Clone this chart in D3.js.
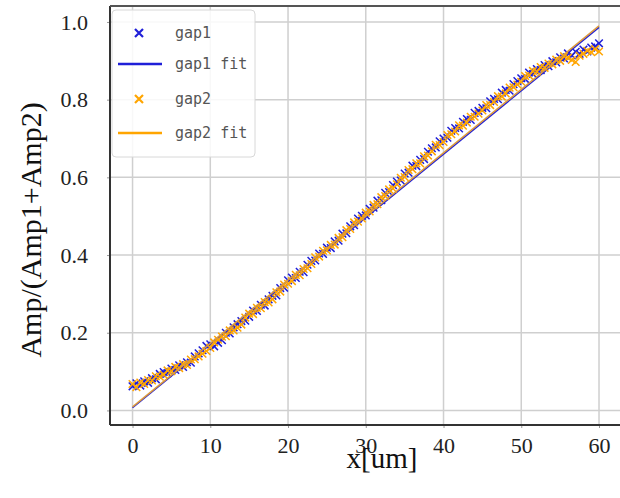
<!DOCTYPE html>
<html>
<head>
<meta charset="utf-8">
<script src="https://cdn.jsdelivr.net/npm/d3@7"></script>
<style>
  body { margin: 0; background: #fff; }
  svg { display: block; }
</style>
</head>
<body>
<div id="chart"></div>
<script>
// x positions of the measurements (um), step 0.5
const xValues = d3.range(0, 60.5, 0.5);

const gap1 = [
  0.062, 0.070, 0.064, 0.075, 0.071, 0.083, 0.080, 0.094, 0.099, 0.096,
  0.108, 0.104, 0.116, 0.112, 0.124, 0.123, 0.139, 0.147, 0.155, 0.166,
  0.170, 0.165, 0.174, 0.181, 0.200, 0.198, 0.214, 0.222, 0.230, 0.231,
  0.241, 0.257, 0.256, 0.272, 0.270, 0.286, 0.295, 0.296, 0.315, 0.316,
  0.335, 0.342, 0.341, 0.357, 0.356, 0.375, 0.385, 0.386, 0.404, 0.403,
  0.419, 0.418, 0.435, 0.437, 0.455, 0.456, 0.474, 0.477, 0.494, 0.501,
  0.502, 0.519, 0.522, 0.540, 0.541, 0.560, 0.562, 0.580, 0.589, 0.592,
  0.610, 0.612, 0.630, 0.629, 0.645, 0.647, 0.666, 0.675, 0.677, 0.693,
  0.700, 0.702, 0.720, 0.727, 0.726, 0.743, 0.750, 0.748, 0.766, 0.771,
  0.779, 0.778, 0.796, 0.802, 0.801, 0.818, 0.825, 0.823, 0.840, 0.848,
  0.855, 0.853, 0.870, 0.866, 0.879, 0.876, 0.889, 0.886, 0.899, 0.896,
  0.909, 0.906, 0.919, 0.914, 0.923, 0.918, 0.929, 0.924, 0.934, 0.937,
  0.945
];

const gap2 = [
  0.068, 0.060, 0.072, 0.068, 0.078, 0.077, 0.088, 0.087, 0.092, 0.103,
  0.101, 0.112, 0.109, 0.119, 0.117, 0.131, 0.132, 0.139, 0.146, 0.153,
  0.161, 0.175, 0.182, 0.190, 0.191, 0.206, 0.206, 0.213, 0.221, 0.239,
  0.249, 0.248, 0.264, 0.263, 0.279, 0.278, 0.286, 0.304, 0.306, 0.324,
  0.326, 0.333, 0.349, 0.348, 0.364, 0.366, 0.377, 0.394, 0.396, 0.411,
  0.412, 0.426, 0.427, 0.444, 0.446, 0.464, 0.467, 0.484, 0.486, 0.494,
  0.509, 0.512, 0.529, 0.531, 0.549, 0.552, 0.569, 0.571, 0.582, 0.599,
  0.601, 0.619, 0.621, 0.636, 0.636, 0.654, 0.656, 0.667, 0.684, 0.683,
  0.691, 0.709, 0.711, 0.718, 0.734, 0.733, 0.741, 0.756, 0.756, 0.764,
  0.772, 0.786, 0.786, 0.794, 0.809, 0.808, 0.816, 0.831, 0.832, 0.839,
  0.846, 0.861, 0.862, 0.874, 0.872, 0.884, 0.882, 0.893, 0.891, 0.903,
  0.900, 0.912, 0.908, 0.902, 0.897, 0.913, 0.918, 0.926, 0.922, 0.930,
  0.924
];

// linear fits, given by their end points
const fitX = [0, 60];
const gap1Fit = [0.007, 0.986];
const gap2Fit = [0.009, 0.990];

const xTicks = [0, 10, 20, 30, 40, 50, 60];
const yTicks = [0.0, 0.2, 0.4, 0.6, 0.8, 1.0];
const legendItems = ["gap1", "gap1 fit", "gap2", "gap2 fit"];

const blue = "#1f1fd8", orange = "#ffa500";

const width = 620, height = 498;
const margin = {top: 6, right: 0, bottom: 73, left: 110};
const innerW = width - margin.left - margin.right,
      innerH = height - margin.top - margin.bottom;

const svg = d3.select("#chart").append("svg")
    .attr("width", width)
    .attr("height", height);

const g = svg.append("g")
    .attr("transform", "translate(" + margin.left + "," + margin.top + ")");

const xScale = d3.scaleLinear().domain([-2.9, 62.7]).range([0, innerW]);
const yScale = d3.scaleLinear().domain([-0.0375, 1.0411]).range([innerH, 0]);

// grid
g.selectAll(".xgrid").data(xTicks).enter().append("line")
    .attr("x1", d => xScale(d)).attr("x2", d => xScale(d))
    .attr("y1", 0).attr("y2", innerH)
    .attr("stroke", "#cfcfcf").attr("stroke-width", 1.5);
g.selectAll(".ygrid").data(yTicks).enter().append("line")
    .attr("x1", 0).attr("x2", innerW)
    .attr("y1", d => yScale(d)).attr("y2", d => yScale(d))
    .attr("stroke", "#cfcfcf").attr("stroke-width", 1.5);

// axes
const xAxis = g.append("g")
    .attr("transform", "translate(0," + innerH + ")")
    .call(d3.axisBottom(xScale).tickValues(xTicks).tickSize(3).tickPadding(9).tickFormat(d3.format("d")));
const yAxis = g.append("g")
    .call(d3.axisLeft(yScale).tickValues(yTicks).tickSize(3).tickPadding(19).tickFormat(d3.format(".1f")));

[xAxis, yAxis].forEach(a => {
    a.select(".domain").remove();
    a.selectAll(".tick line").attr("stroke", "#999");
    a.selectAll(".tick text")
        .attr("fill", "#222")
        .style("font-family", "'Liberation Serif', serif")
        .style("font-size", "22px");
});

// frame (left, bottom, top)
g.append("line").attr("x1", 0).attr("x2", 0).attr("y1", 0).attr("y2", innerH)
    .attr("stroke", "#333").attr("stroke-width", 2);
g.append("line").attr("x1", 0).attr("x2", innerW).attr("y1", innerH).attr("y2", innerH)
    .attr("stroke", "#333").attr("stroke-width", 2);
g.append("line").attr("x1", 0).attr("x2", innerW).attr("y1", 0).attr("y2", 0)
    .attr("stroke", "#555").attr("stroke-width", 2);

// x marker path
function cross(s) {
    return "M" + (-s) + "," + (-s) + "L" + s + "," + s + "M" + (-s) + "," + s + "L" + s + "," + (-s);
}

function drawPoints(values, color) {
    g.append("g").selectAll("path")
        .data(values).enter().append("path")
        .attr("transform", (d, i) => "translate(" + xScale(xValues[i]) + "," + yScale(d) + ")")
        .attr("d", cross(3.8))
        .attr("stroke", color)
        .attr("stroke-width", 1.5)
        .attr("fill", "none");
}

function drawFit(values, color) {
    g.append("line")
        .attr("x1", xScale(fitX[0])).attr("y1", yScale(values[0]))
        .attr("x2", xScale(fitX[1])).attr("y2", yScale(values[1]))
        .attr("stroke", color).attr("stroke-width", 1.5);
}

drawPoints(gap1, blue);
drawFit(gap1Fit, blue);
drawPoints(gap2, orange);
drawFit(gap2Fit, "#dc9a3c");

// axis labels
svg.append("text")
    .attr("x", 382).attr("y", 468)
    .attr("text-anchor", "middle")
    .style("font-family", "'Liberation Serif', serif")
    .style("font-size", "29px")
    .attr("fill", "#111")
    .text("x[um]");

svg.append("text")
    .attr("transform", "translate(41,230) rotate(-90)")
    .attr("text-anchor", "middle")
    .style("font-family", "'Liberation Serif', serif")
    .style("font-size", "30px")
    .attr("fill", "#111")
    .text("Amp/(Amp1+Amp2)");

// legend
const legend = svg.append("g").attr("transform", "translate(112,10)");
legend.append("rect")
    .attr("width", 143).attr("height", 147).attr("rx", 4)
    .attr("fill", "#fff").attr("fill-opacity", 0.85)
    .attr("stroke", "#d8d8d8");

const rowY = [23, 54, 89, 123];
const legendColors = [blue, blue, orange, orange];

legendItems.forEach((name, i) => {
    if (name.indexOf("fit") < 0) {
        legend.append("path")
            .attr("transform", "translate(27," + rowY[i] + ")")
            .attr("d", cross(4))
            .attr("stroke", legendColors[i]).attr("stroke-width", 2.2).attr("fill", "none");
    } else {
        legend.append("line")
            .attr("x1", 6).attr("x2", 50).attr("y1", rowY[i]).attr("y2", rowY[i])
            .attr("stroke", legendColors[i]).attr("stroke-width", 2.5);
    }
    legend.append("text")
        .attr("x", 63).attr("y", rowY[i]).attr("dy", "0.35em")
        .style("font-family", "'DejaVu Sans Mono', monospace")
        .style("font-size", "15px")
        .attr("fill", "#555")
        .text(name);
});
</script>
</body>
</html>
